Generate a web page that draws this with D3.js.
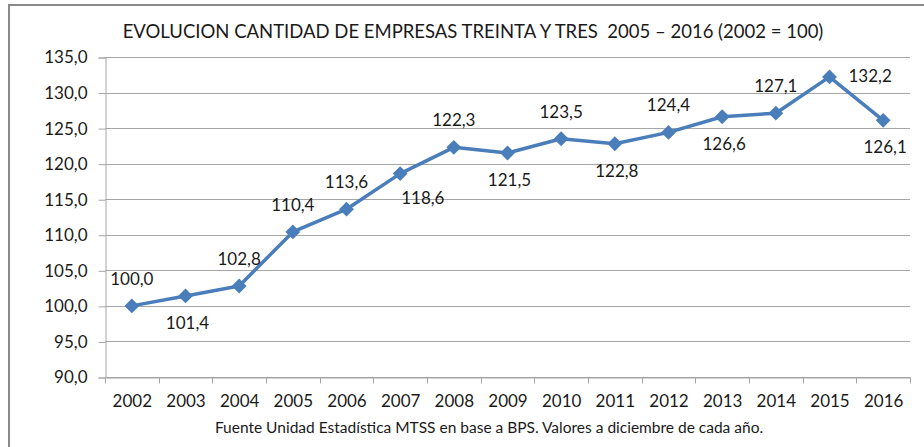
<!DOCTYPE html>
<html>
<head>
<meta charset="utf-8">
<script src="https://cdn.jsdelivr.net/npm/d3@7"></script>
<style>
  body { margin: 0; background: #fff; }
  text { font-family: Lato, "Open Sans", sans-serif; fill: #1a1a1a; }
</style>
</head>
<body>
<div id="vis"></div>
<script>
// values
var years = ['2002', '2003', '2004', '2005', '2006', '2007', '2008', '2009',
  '2010', '2011', '2012', '2013', '2014', '2015', '2016'];
var values = [100.0, 101.4, 102.8, 110.4, 113.6, 118.6, 122.3, 121.5,
  123.5, 122.8, 124.4, 126.6, 127.1, 132.2, 126.1];
// where each data label sits relative to its marker
var labelPlace = ['above', 'below', 'above', 'above', 'above', 'belowRight', 'above', 'below',
  'above', 'below', 'above', 'below', 'above', 'right', 'below'];
var yTicks = [90, 95, 100, 105, 110, 115, 120, 125, 130, 135];

var title = 'EVOLUCION CANTIDAD DE EMPRESAS TREINTA Y TRES  2005 \u2013 2016 (2002 = 100)';
var source = 'Fuente Unidad Estad\u00edstica MTSS en base a BPS. Valores a diciembre de cada a\u00f1o.';

var width = 924, height = 447;
var margin = { top: 57, right: 14, bottom: 70, left: 105 };
var lineColor = '#4a7ebb';
var gridColor = '#a6a6a6';

var fmt = function (v) { return d3.format('.1f')(v).replace('.', ','); };

var svg = d3.select('#vis').append('svg')
  .attr('width', width)
  .attr('height', height);

// outer chart border (runs off the right and bottom edge)
svg.append('rect')
  .attr('x', 9).attr('y', 5)
  .attr('width', 940).attr('height', 470)
  .attr('fill', 'none')
  .attr('stroke', '#8a8a8a')
  .attr('stroke-width', 2);

var x = d3.scaleBand()
  .domain(years)
  .range([margin.left, width - margin.right]);

var y = d3.scaleLinear()
  .domain([90, 135])
  .range([height - margin.bottom, margin.top]);

// gridlines
svg.append('g')
  .selectAll('line')
  .data(yTicks)
  .enter().append('line')
  .attr('x1', margin.left)
  .attr('x2', width - margin.right)
  .attr('y1', function (d) { return Math.round(y(d)) + 0.5; })
  .attr('y2', function (d) { return Math.round(y(d)) + 0.5; })
  .attr('stroke', gridColor)
  .attr('stroke-width', 1);

// y axis
var yAxis = svg.append('g')
  .attr('transform', 'translate(' + (margin.left + 0.5) + ',0.5)')
  .call(d3.axisLeft(y).tickValues(yTicks).tickFormat(fmt).tickSize(7).tickPadding(11));

// x axis
var xAxis = svg.append('g')
  .attr('transform', 'translate(0.5,' + (Math.round(y(90)) + 0.5) + ')')
  .call(d3.axisBottom(x).tickSize(0).tickPadding(17));

// x tick marks sit on the band edges
xAxis.selectAll('.edge')
  .data(years.concat(['end']))
  .enter().append('line')
  .attr('class', 'edge')
  .attr('x1', function (d, i) { return Math.round(margin.left + i * x.step()); })
  .attr('x2', function (d, i) { return Math.round(margin.left + i * x.step()); })
  .attr('y1', 0).attr('y2', 6)
  .attr('stroke', gridColor);

[yAxis, xAxis].forEach(function (ax) {
  ax.selectAll('.domain').attr('stroke', gridColor);
  ax.selectAll('.tick line').attr('stroke', gridColor);
  ax.selectAll('text')
    .style('font-family', 'Lato, sans-serif')
    .style('font-size', '17px')
    .attr('fill', '#1a1a1a');
});

var px = function (d, i) { return x(years[i]) + x.bandwidth() / 2; };

// series line
var line = d3.line()
  .x(px)
  .y(function (d) { return y(d); });

svg.append('path')
  .datum(values)
  .attr('d', line)
  .attr('fill', 'none')
  .attr('stroke', lineColor)
  .attr('stroke-width', 3.5)
  .attr('stroke-linejoin', 'round');

// diamond markers
svg.append('g')
  .selectAll('path')
  .data(values)
  .enter().append('path')
  .attr('d', d3.symbol().type(d3.symbolDiamond2).size(140))
  .attr('transform', function (d, i) { return 'translate(' + px(d, i) + ',' + y(d) + ')'; })
  .attr('fill', lineColor);

// data labels
var offsets = {
  above: { dx: 0, dy: -21, anchor: 'middle' },
  below: { dx: 2, dy: 33, anchor: 'middle' },
  belowRight: { dx: 1, dy: 30, anchor: 'start' },
  right: { dx: 19, dy: 5, anchor: 'start' }
};

svg.append('g')
  .selectAll('text')
  .data(values)
  .enter().append('text')
  .attr('x', function (d, i) { return px(d, i) + offsets[labelPlace[i]].dx; })
  .attr('y', function (d, i) { return y(d) + offsets[labelPlace[i]].dy; })
  .attr('text-anchor', function (d, i) { return offsets[labelPlace[i]].anchor; })
  .style('font-size', '17px')
  .text(fmt);

// title and source note
svg.append('text')
  .attr('x', 473)
  .attr('y', 38)
  .attr('text-anchor', 'middle')
  .style('font-size', '18.5px')
  .style('white-space', 'pre')
  .text(title);

svg.append('text')
  .attr('x', 489)
  .attr('y', 433)
  .attr('text-anchor', 'middle')
  .style('font-size', '15.5px')
  .text(source);
</script>
</body>
</html>
